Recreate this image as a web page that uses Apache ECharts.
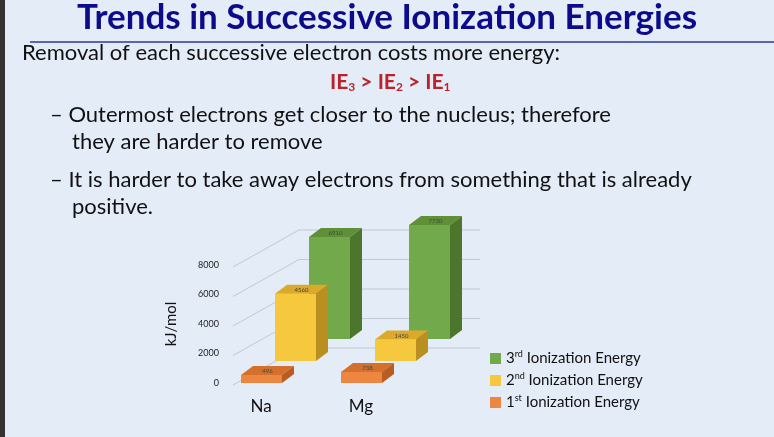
<!DOCTYPE html>
<html><head><meta charset="utf-8">
<script src="https://cdn.jsdelivr.net/npm/echarts@6/dist/echarts.min.js"></script>
<style>html,body{margin:0;padding:0;background:#e4ecf8}#c{width:774px;height:437px}</style>
</head><body><div id="c"></div>
<script>
const categories = ['Na', 'Mg'];
const ie1 = [496, 738];
const ie2 = [4560, 1450];
const ie3 = [6910, 7730];
const yTicks = [0, 2000, 4000, 6000, 8000];

const chart = echarts.init(document.getElementById('c'));
const F = 'Lato, "Open Sans", sans-serif';
const colors = {
  ie3: ['#72a94a', '#5f9038', '#4b762c'],
  ie2: ['#f6c83e', '#dcaa2a', '#b98f1f'],
  ie1: ['#ec8640', '#d4702c', '#b95c22']
};
function barItem(depth, col) {
  return function (params, api) {
    const c = api.value(0), v = api.value(1);
    const b = api.coord([c, 0]), t = api.coord([c, v]);
    const dx = depth * 34, dy = -depth * 22;
    const w = 41, sx = 12, sy = -9;
    const L = b[0] - 20 + dx, R = L + w, B = b[1] + dy, T = Math.min(t[1] + dy, B - 8);
    return {
      type: 'group', children: [
        { type: 'polygon', shape: { points: [[L, B], [R, B], [R, T], [L, T]] }, style: { fill: col[0] } },
        { type: 'polygon', shape: { points: [[L, T], [R, T], [R + sx, T + sy], [L + sx, T + sy]] }, style: { fill: col[1] } },
        { type: 'polygon', shape: { points: [[R, B], [R + sx, B + sy], [R + sx, T + sy], [R, T]] }, style: { fill: col[2] } },
        { type: 'text', style: { text: String(v), x: L + w / 2 + 6, y: T - 4, fill: '#444', fontSize: 6, align: 'center', verticalAlign: 'middle', fontFamily: F } }
      ]
    };
  };
}
function mk(name, data, depth, col) {
  return { name: name, type: 'custom', itemStyle: { color: col[0] },
    renderItem: barItem(depth, col), data: data.map((v, i) => [i, v]), z: 3 - depth + 2 };
}
const sup = { sup: { fontSize: 9, verticalAlign: 'top', padding: [0, 0, 8, 0], fontFamily: F, color: '#111' } };
chart.setOption({
  backgroundColor: '#e4ecf8',
  animation: false,
  grid: { left: 211, width: 200, top: 265, bottom: 54 },
  xAxis: { type: 'category', data: categories, axisLine: { show: false }, axisTick: { show: false },
    axisLabel: { fontSize: 17, fontFamily: F, color: '#111', margin: 15 } },
  yAxis: { type: 'value', min: 0, max: 8000, interval: 2000, splitLine: { show: false },
    axisLabel: { fontSize: 9, fontFamily: F, color: '#222', margin: -8, formatter: v => String(v) },
    name: 'kJ/mol', nameLocation: 'middle', nameGap: 32, nameTextStyle: { fontSize: 15, fontFamily: F, color: '#111' } },
  legend: {
    orient: 'vertical', left: 485, top: 345, itemWidth: 11, itemHeight: 11, itemGap: 6, icon: 'rect',
    data: ['IE3', 'IE2', 'IE1'],
    textStyle: { fontSize: 15, fontFamily: F, color: '#111', rich: sup },
    formatter: n => ({ IE3: '3{sup|rd} Ionization Energy', IE2: '2{sup|nd} Ionization Energy', IE1: '1{sup|st} Ionization Energy' }[n])
  },
  series: [
    { type: 'custom', silent: true, z: 1, data: yTicks.map(v => [0, v]),
      renderItem: function (params, api) {
        const p = api.coord([0, api.value(1)]);
        const x0 = params.coordSys.x + 22, y = p[1] + 2;
        return { type: 'polyline', shape: { points: [[x0, y], [x0 + 66, y - 37], [480, y - 37]] },
          style: { stroke: '#c4c8d0', lineWidth: 1, fill: null } };
      } },
    mk('IE3', ie3, 2, colors.ie3),
    mk('IE2', ie2, 1, colors.ie2),
    mk('IE1', ie1, 0, colors.ie1)
  ],
  graphic: [
    { type: 'rect', shape: { x: 0, y: 0, width: 5, height: 437 }, style: { fill: '#333' } },
    { type: 'text', left: 'center', top: 0, style: { text: 'Trends in Successive Ionization Energies', fontSize: 35, fontWeight: 'bold', fill: '#0b0b8c', fontFamily: F } },
    { type: 'rect', shape: { x: 30, y: 41, width: 744, height: 2 }, style: { fill: '#5a64b4' } },
    { type: 'text', left: 22, top: 42, style: { text: 'Removal of each successive electron costs more energy:', fontSize: 22, fill: '#111', fontFamily: F } },
    { type: 'text', left: 330, top: 72, style: { text: 'IE{s|3} > IE{s|2} > IE{s|1}', fontSize: 21, fontWeight: 'bold', fill: '#b8242a', fontFamily: F,
      rich: { s: { fontSize: 12, fontWeight: 'bold', fill: '#b8242a', verticalAlign: 'bottom', padding: [9, 0, 0, 0], fontFamily: F } } } },
    { type: 'text', left: 50, top: 104, style: { text: '– Outermost electrons get closer to the nucleus; therefore', fontSize: 22, fill: '#111', fontFamily: F } },
    { type: 'text', left: 72, top: 131, style: { text: 'they are harder to remove', fontSize: 22, fill: '#111', fontFamily: F } },
    { type: 'text', left: 50, top: 169, style: { text: '– It is harder to take away electrons from something that is already', fontSize: 22, fill: '#111', fontFamily: F } },
    { type: 'text', left: 72, top: 196, style: { text: 'positive.', fontSize: 22, fill: '#111', fontFamily: F } }
  ]
});
</script></body></html>
